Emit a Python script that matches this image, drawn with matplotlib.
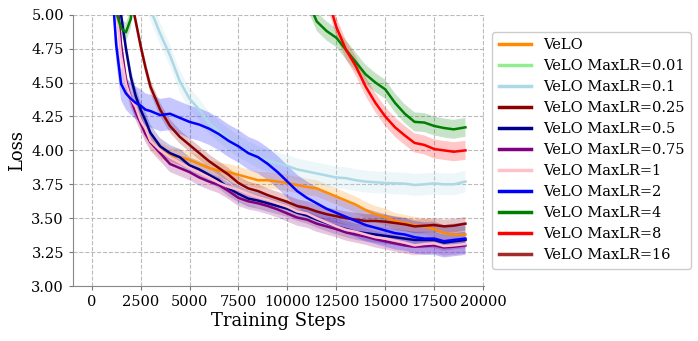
import matplotlib
matplotlib.use('Agg')
import matplotlib.pyplot as plt
import numpy as np

plt.rcParams['font.family'] = ['DejaVu Serif']

# Training steps (shared grid for all runs)
steps = [0, 500, 1000, 1250, 1500, 1750, 2000, 2250, 2500, 2750, 3000, 3500, 4000,
         4500, 5000, 5500, 6000, 6500, 7000, 7500, 8000, 8500, 9000, 9500, 10000,
         10500, 11000, 11500, 12000, 12500, 13000, 13500, 14000, 14500, 15000,
         15500, 16000, 16500, 17000, 17500, 18000, 18500, 19100]

# Smoothed loss curves
velo = [10.5, 8.6, 6.0, 5.1, 4.75, 4.5, 4.38, 4.3, 4.22, 4.14, 4.07, 4.0, 3.96,
        3.95, 3.93, 3.9, 3.87, 3.85, 3.84, 3.82, 3.8, 3.78, 3.78, 3.77, 3.76,
        3.745, 3.73, 3.72, 3.69, 3.66, 3.63, 3.6, 3.56, 3.53, 3.51,
        3.48, 3.465, 3.45, 3.44, 3.42, 3.39, 3.38, 3.38]
lr_001 = [10.9, 10.2, 9.5, 9.2, 8.9, 8.6, 8.35, 8.1, 7.9, 7.7, 7.55, 7.3, 7.1,
          6.95, 6.8, 6.7, 6.6, 6.5, 6.42, 6.35, 6.28, 6.22, 6.16, 6.1, 6.05,
          6.0, 5.95, 5.9, 5.86, 5.82, 5.78, 5.74, 5.7, 5.67, 5.64,
          5.61, 5.58, 5.55, 5.53, 5.5, 5.48, 5.46, 5.44]
lr_01 = [10.8, 9.5, 8.0, 7.3, 6.7, 6.2, 5.8, 5.5, 5.3, 5.15, 5.04, 4.86, 4.7,
         4.51, 4.38, 4.3, 4.2, 4.14, 4.08, 4.03, 3.99, 3.95, 3.925, 3.905, 3.885,
         3.86, 3.845, 3.83, 3.815, 3.8, 3.795, 3.78, 3.77, 3.765, 3.76,
         3.757, 3.755, 3.745, 3.75, 3.757, 3.75, 3.75, 3.77]
lr_025 = [10.8, 9.0, 7.0, 6.3, 5.8, 5.4, 5.12, 4.95, 4.77, 4.61, 4.47, 4.3, 4.18,
          4.1, 4.04, 3.98, 3.92, 3.87, 3.82, 3.76, 3.72, 3.7, 3.67, 3.645, 3.62,
          3.59, 3.575, 3.55, 3.53, 3.515, 3.5, 3.49, 3.48, 3.48, 3.475,
          3.465, 3.455, 3.44, 3.445, 3.45, 3.44, 3.445, 3.46]
lr_05 = [10.6, 8.8, 6.5, 5.6, 5.0, 4.75, 4.54, 4.4, 4.3, 4.22, 4.13, 4.03, 3.98,
         3.95, 3.89, 3.86, 3.82, 3.78, 3.72, 3.68, 3.645, 3.63, 3.61, 3.59, 3.57,
         3.54, 3.52, 3.49, 3.465, 3.44, 3.42, 3.4, 3.39, 3.38, 3.37,
         3.36, 3.35, 3.34, 3.34, 3.34, 3.32, 3.33, 3.34]
lr_075 = [10.5, 8.5, 6.0, 5.2, 4.78, 4.52, 4.38, 4.28, 4.2, 4.12, 4.06, 3.98, 3.9,
          3.87, 3.84, 3.8, 3.77, 3.745, 3.7, 3.65, 3.625, 3.61, 3.59, 3.565, 3.535,
          3.505, 3.49, 3.46, 3.44, 3.42, 3.395, 3.38, 3.365, 3.345, 3.33,
          3.315, 3.3, 3.29, 3.295, 3.3, 3.285, 3.29, 3.3]
lr_1 = [10.4, 8.4, 5.9, 5.05, 4.7, 4.49, 4.38, 4.32, 4.22, 4.16, 4.07, 4.0, 3.95,
        3.91, 3.87, 3.835, 3.8, 3.76, 3.73, 3.71, 3.68, 3.655, 3.635, 3.61, 3.585,
        3.55, 3.535, 3.5, 3.47, 3.44, 3.415, 3.4, 3.38, 3.36, 3.35,
        3.335, 3.32, 3.3, 3.31, 3.315, 3.295, 3.3, 3.31]
lr_2 = [10.5, 8.5, 5.3, 4.78, 4.49, 4.42, 4.38, 4.35, 4.33, 4.3, 4.29, 4.26, 4.27,
        4.24, 4.21, 4.19, 4.16, 4.12, 4.07, 4.03, 3.98, 3.95, 3.9, 3.84, 3.77,
        3.7, 3.65, 3.61, 3.57, 3.54, 3.51, 3.48, 3.45, 3.43, 3.41,
        3.39, 3.38, 3.36, 3.35, 3.35, 3.33, 3.34, 3.35]
lr_4 = [10.6, 8.5, 6.0, 5.02, 4.9, 4.87, 4.97, 5.3, 5.8, 6.2, 6.5, 6.7, 6.75,
        6.7, 6.6, 6.5, 6.4, 6.3, 6.2, 6.1, 6.0, 5.9, 5.8, 5.7, 5.6,
        5.35, 5.12, 4.95, 4.88, 4.83, 4.74, 4.65, 4.56, 4.5, 4.45,
        4.35, 4.27, 4.21, 4.205, 4.18, 4.165, 4.155, 4.17]
lr_8 = [10.8, 9.0, 7.5, 7.2, 7.0, 7.0, 7.1, 7.2, 7.3, 7.35, 7.4, 7.4, 7.35,
        7.3, 7.2, 7.1, 7.0, 6.9, 6.8, 6.7, 6.6, 6.5, 6.4, 6.3, 6.2,
        6.1, 6.0, 5.6, 5.15, 4.91, 4.74, 4.62, 4.47, 4.35, 4.25,
        4.17, 4.11, 4.055, 4.04, 4.01, 4.0, 3.99, 4.0]
lr_16 = [10.8, 9.2, 7.8, 7.6, 7.5, 7.5, 7.6, 7.7, 7.8, 7.85, 7.9, 7.9, 7.9,
         7.85, 7.8, 7.75, 7.7, 7.65, 7.6, 7.55, 7.5, 7.45, 7.4, 7.35, 7.3,
         7.25, 7.2, 7.15, 7.1, 7.05, 7.0, 6.95, 6.9, 6.85, 6.8,
         6.75, 6.7, 6.65, 6.6, 6.55, 6.5, 6.45, 6.4]

# Approximate half-width of the raw (noisy) loss band around each curve
spread = [0.06, 0.06, 0.08, 0.05, 0.06, 0.06, 0.08, 0.12, 0.07, 0.07, 0.06]

labels = ['VeLO', 'VeLO MaxLR=0.01', 'VeLO MaxLR=0.1', 'VeLO MaxLR=0.25',
          'VeLO MaxLR=0.5', 'VeLO MaxLR=0.75', 'VeLO MaxLR=1', 'VeLO MaxLR=2',
          'VeLO MaxLR=4', 'VeLO MaxLR=8', 'VeLO MaxLR=16']
colores = ['darkorange', 'lightgreen', 'lightblue', 'darkred', 'darkblue',
           'purple', 'pink', 'blue', 'green', 'red', 'brown']
curvas = [velo, lr_001, lr_01, lr_025, lr_05, lr_075, lr_1, lr_2, lr_4, lr_8, lr_16]

fig = plt.figure(figsize=(6.98, 3.41), dpi=100)
ax = fig.add_axes([0.1046, 0.161, 0.589, 0.796])

x = np.array(steps)
for y, s, c in zip(curvas, spread, colores):
    y = np.array(y)
    ax.fill_between(x, y - s, y + s, color=c, alpha=0.22, linewidth=0)
for y, lab, c in zip(curvas, labels, colores):
    ax.plot(x, y, color=c, linewidth=1.8, label=lab)

ax.set_ylim(3.0, 5.0)
ax.set_xlim(-955, 20055)
ax.set_xticks(range(0, 20001, 2500))
ax.set_yticks(np.arange(3.0, 5.01, 0.25))
ax.yaxis.set_major_formatter(matplotlib.ticker.FormatStrFormatter('%.2f'))
ax.tick_params(labelsize=10.5, colors='#777777', labelcolor='black', length=3)
ax.grid(True, linestyle='--', color='#bbbbbb', linewidth=0.8)
ax.set_axisbelow(True)
for lado in ['top', 'right']:
    ax.spines[lado].set_visible(False)
for lado in ['left', 'bottom']:
    ax.spines[lado].set_color('#888888')

ax.set_xlabel('Training Steps', fontsize=13, labelpad=2)
ax.set_ylabel('Loss', fontsize=13)

leg = ax.legend(loc='center left', bbox_to_anchor=(1.02, 0.5), fontsize=10.5,
                handlelength=2.2, labelspacing=0.48, borderpad=0.45,
                borderaxespad=0, handletextpad=0.8, framealpha=1.0)
for linea in leg.get_lines():
    linea.set_linewidth(2.5)

fig.savefig('out.png', dpi=100)
